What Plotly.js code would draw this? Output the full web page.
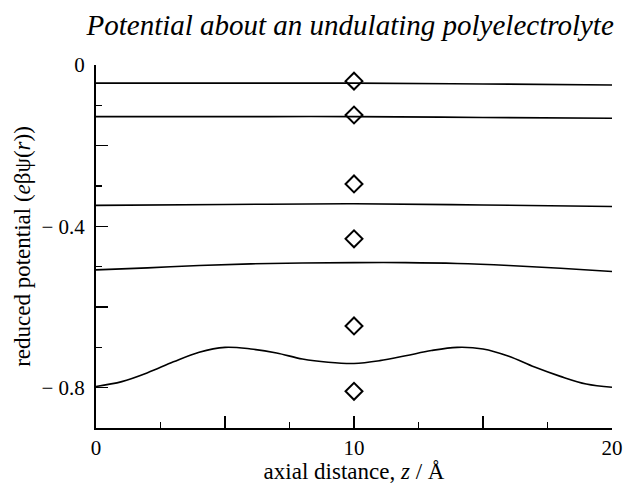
<!DOCTYPE html>
<html>
<head>
<meta charset="utf-8">
<script src="https://cdn.plot.ly/plotly-3.0.1.min.js"></script>
<style>html,body{margin:0;padding:0;background:#fff;}#chart{width:623px;height:484px;}</style>
</head>
<body>
<div id="chart"></div>
<script>
// Axial positions (Å)
const zFlat = [0, 5, 10, 15, 20];
const zMid = [0, 2, 4, 6, 8, 10, 12, 14, 16, 18, 20];
const zFine = [0,1,2,3,4,5,6,7,8,9,10,11,12,13,14,15,16,17,18,19,20];

// Reduced potential curves (top to bottom)
const curve1 = [-0.045, -0.045, -0.045, -0.047, -0.0495];
const curve2 = [-0.128, -0.128, -0.128, -0.130, -0.132];
const curve3 = [-0.348, -0.346, -0.344, -0.347, -0.351];
const curve4 = [-0.508, -0.503, -0.497, -0.493, -0.491, -0.490, -0.490, -0.492, -0.497, -0.504, -0.512];
const curve5 = [-0.797, -0.785, -0.763, -0.736, -0.712, -0.700, -0.704, -0.714, -0.729, -0.737, -0.740,
                -0.733, -0.721, -0.708, -0.700, -0.704, -0.722, -0.749, -0.772, -0.791, -0.799];

// Diamond markers at z = 10
const diamondZ = [10, 10, 10, 10, 10, 10];
const diamondY = [-0.040, -0.124, -0.295, -0.431, -0.647, -0.809];

// Tick labels
const yTickVals = [0, -0.2, -0.4, -0.6, -0.8];
const yTickText = ['0', '', '\u2212 0.4', '', '\u2212 0.8'];
const xTickVals = [0, 5, 10, 15, 20];
const xTickText = ['0', '', '10', '', '20'];

const lineStyle = {color: '#000', width: 1.6, shape: 'spline'};
const traces = [
  {x: zFlat, y: curve1, mode: 'lines', line: lineStyle},
  {x: zFlat, y: curve2, mode: 'lines', line: lineStyle},
  {x: zFlat, y: curve3, mode: 'lines', line: lineStyle},
  {x: zMid, y: curve4, mode: 'lines', line: lineStyle},
  {x: zFine, y: curve5, mode: 'lines', line: lineStyle},
  {x: diamondZ, y: diamondY, mode: 'markers',
   marker: {symbol: 'diamond-open', size: 13, color: '#000', line: {color: '#000', width: 2}}}
];

const serif = 'Liberation Serif, Times New Roman, serif';
const layout = {
  width: 623, height: 484,
  paper_bgcolor: '#fff', plot_bgcolor: '#fff',
  showlegend: false,
  margin: {l: 96, r: 11, t: 65, b: 56},
  font: {family: serif, color: '#000', size: 20},
  title: {
    text: '<i>Potential about an undulating polyelectrolyte</i>',
    font: {family: serif, size: 29, color: '#000'},
    x: 0.562, xanchor: 'center', xref: 'container',
    y: 0.948, yanchor: 'middle', yref: 'container'
  },
  xaxis: {
    range: [0, 20], showgrid: false, zeroline: false,
    showline: true, linecolor: '#000', linewidth: 2,
    ticks: 'inside', ticklen: 12, tickwidth: 1.6, tickcolor: '#000',
    tickvals: xTickVals, ticktext: xTickText,
    tickfont: {family: serif, size: 21},
    ticklabeloverflow: 'allow',
    minor: {dtick: 2.5, ticks: 'inside', ticklen: 6, tickwidth: 1.4, tickcolor: '#000'},
    title: {text: 'axial distance, <i>z</i> / Å', font: {family: serif, size: 23}, standoff: 4}
  },
  yaxis: {
    range: [-0.9, 0], showgrid: false, zeroline: false,
    showline: true, linecolor: '#000', linewidth: 2,
    ticks: 'inside', ticklen: 12, tickwidth: 1.6, tickcolor: '#000',
    tickvals: yTickVals, ticktext: yTickText,
    tickfont: {family: serif, size: 21},
    ticklabelstandoff: 5,
    minor: {dtick: 0.1, ticks: 'inside', ticklen: 6, tickwidth: 1.4, tickcolor: '#000'},
    title: {text: 'reduced potential (<i>e</i>βψ(<i>r</i>))', font: {family: serif, size: 23}, standoff: 4}
  }
};

Plotly.newPlot('chart', traces, layout, {displayModeBar: false, staticPlot: true});
</script>
</body>
</html>
